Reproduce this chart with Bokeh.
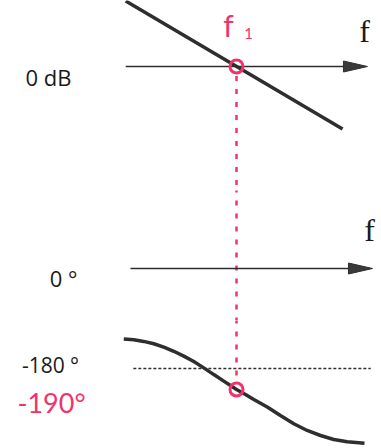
from bokeh.plotting import figure
from bokeh.layouts import column
from bokeh.models import Range1d, Label
from bokeh.embed import file_html
from bokeh.resources import INLINE

# Frequencies are given relative to the crossover frequency f1 (log scale)
F1 = 1.0

# Gain plot: straight -20 dB/decade slope through 0 dB at f1
gain_freq = [0.078, 11.5]
gain_db = [22.2, -21.2]

# Phase plot: S-shaped phase curve, -190 deg at f1
phase_freq = [0.0746, 0.094, 0.118, 0.149, 0.1875, 0.236, 0.297, 0.374,
              0.471, 0.593, 0.746, 0.871, 1.0, 1.23, 1.49, 2.03, 2.75, 3.74,
              5.09, 6.92, 9.4, 12.8, 19.05]
phase_deg = [-165.9, -166.3, -167.1, -168.2, -169.8, -171.8, -174.1, -176.7,
             -179.7, -182.9, -186.0, -188.1, -190.0, -192.4, -194.8, -198.3,
             -202.4, -206.3, -209.5, -211.9, -213.8, -214.9, -215.6]

# Reference levels and the marked values
gain_ref_db = 0.0
phase_ref_deg = 0.0
phase_limit_deg = -180.0
phase_at_f1 = -190.0

# Horizontal extents of the frequency axes
gain_axis_freq = [0.078, 20.4]
phase_axis_freq = [0.087, 22.9]
limit_line_freq = [0.093, 22.0]

INK = "#2e2e2e"
PINK = "#f0336b"
W = 381
X_RANGE = (10 ** -2.36, 10 ** 1.45)


def make_fig(h, y0, y1):
    p = figure(width=W, height=h, x_axis_type="log",
               x_range=Range1d(*X_RANGE), y_range=Range1d(y0, y1),
               output_backend="svg", toolbar_location=None,
               min_border=0, min_border_left=0, min_border_right=0,
               min_border_top=0, min_border_bottom=0)
    p.xaxis.visible = False
    p.yaxis.visible = False
    p.grid.visible = False
    p.outline_line_color = None
    p.background_fill_color = "white"
    p.border_fill_color = "white"
    return p


def axis_arrow(p, xs, y, head_dec, half_h, color=INK):
    # shaft plus a slender filled arrow head ending at the axis tip
    tip = xs[1]
    base = tip / 10 ** head_dec
    p.line([xs[0], base], [y, y], line_color=color, line_width=1.6)
    p.patch([base, tip, base], [y + half_h, y, y - half_h],
            fill_color="#3a3a3a", line_color=color, line_width=1)


def label(p, text, x, y, dy, size, font="Open Sans", color="#1a1a1a",
          style="normal"):
    p.add_layout(Label(x=x, y=y, x_units="screen", y_offset=dy, text=text,
                       text_font=font, text_font_size=f"{size}px",
                       text_color=color, text_align="center",
                       text_baseline="middle", text_font_style=style))


# ---- gain plot (dB), 2.95 px per dB ----
px_db = 2.95
top = make_fig(190, -(190 - 66) / px_db, 66 / px_db)
top.line([F1, F1], [-3.2, -60], line_color=PINK, line_width=2.5,
         line_dash="5 8")
axis_arrow(top, gain_axis_freq, gain_ref_db, 0.24, 5.5 / px_db)
top.line(gain_freq, gain_db, line_color=INK, line_width=3.5)
top.scatter([F1], [gain_ref_db], marker="circle", size=13, fill_color=None,
            line_color=PINK, line_width=3)
label(top, "0 dB", 48, gain_ref_db, -10, 22)
label(top, "f", 364, gain_ref_db, 36, 32, font="Liberation Serif")
label(top, "f", 228, gain_ref_db, 42, 30, font="Lato", color=PINK)
label(top, "1", 248, gain_ref_db, 33, 15, font="Lato", color=PINK)

# ---- phase plot, upper part around 0 deg ----
mid = make_fig(130, -52, 78)
mid.line([F1, F1], [-80, 100], line_color=PINK, line_width=2.5,
         line_dash="5 8")
axis_arrow(mid, phase_axis_freq, phase_ref_deg, 0.24, 5.5)
label(mid, "0 °", 63, phase_ref_deg, -9, 22)
label(mid, "f", 369, phase_ref_deg, 39, 32, font="Liberation Serif")

# ---- phase plot, lower part around -180 deg, 2.1 px per degree ----
px_deg = 2.1
bot = make_fig(128, -180 - 80 / px_deg, -180 + 48 / px_deg)
bot.line([F1, F1], [-150, -186.2], line_color=PINK, line_width=2.5,
         line_dash="5 8")
bot.line(limit_line_freq, [phase_limit_deg, phase_limit_deg],
         line_color=INK, line_width=1.6, line_dash="3 2")
bot.line(phase_freq, phase_deg, line_color=INK, line_width=3.5)
bot.scatter([F1], [phase_at_f1], marker="circle", size=13, fill_color=None,
            line_color=PINK, line_width=3)
label(bot, "-180 °", 50, phase_limit_deg, 4, 21)
label(bot, "-190°", 51, phase_at_f1, -13, 27, font="Lato", color=PINK)

layout = column(top, mid, bot, spacing=0)
open("out.html", "w").write(file_html(layout, INLINE))
